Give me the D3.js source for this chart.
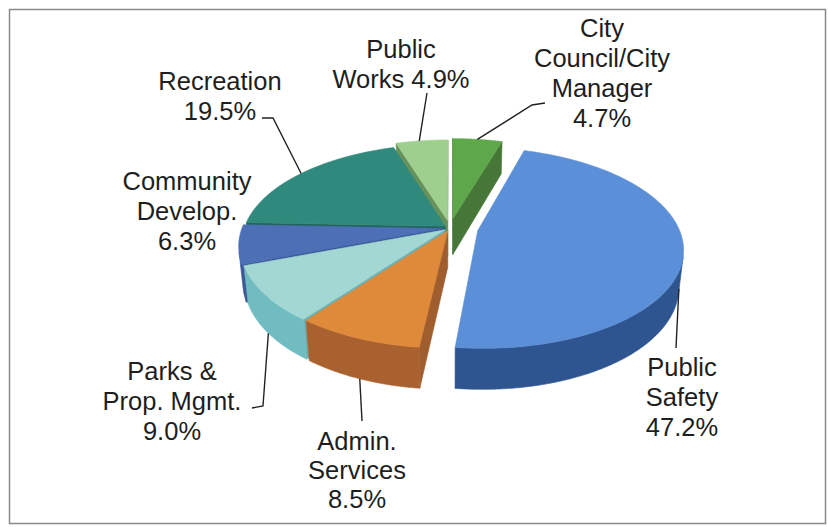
<!DOCTYPE html>
<html>
<head>
<meta charset="utf-8">
<script src="https://cdn.jsdelivr.net/npm/d3@7"></script>
<style>
  body { margin: 0; background: #fff; }
  text { font-family: "Liberation Sans", Arial, sans-serif; }
</style>
</head>
<body>
<svg width="828" height="527"></svg>
<script>
// ---- data ----
const categories = ['City Council/City Manager', 'Public Safety', 'Admin. Services',
  'Parks & Prop. Mgmt.', 'Community Develop.', 'Recreation', 'Public Works'];
const shares = [4.7, 47.2, 8.5, 9.0, 6.3, 19.5, 4.9];
const labelLines = [
  ['City', 'Council/City', 'Manager', '4.7%'],
  ['Public', 'Safety', '47.2%'],
  ['Admin.', 'Services', '8.5%'],
  ['Parks &', 'Prop. Mgmt.', '9.0%'],
  ['Community', 'Develop.', '6.3%'],
  ['Recreation', '19.5%'],
  ['Public', 'Works 4.9%']
];

// ---- styles ----
const topColors  = ['#5ea84b', '#5b8fd8', '#df8a3b', '#a2d7d3', '#4c6fb6', '#2f8a7d', '#9fcf8f'];
const sideColors = ['#4b7e3b', '#2f5590', '#a9622f', '#70bcc0', '#3a5597', '#236a5f', '#6e9a61'];
const explode    = [0.10, 0.14, 0.03, 0.03, 0.035, 0.03, 0.08];

// label layout: centre x, first baseline, line step; leader: fixed points then anchor on slice
const labelPos = [[602, 37, 30], [682, 376, 30], [357, 450, 29], [172, 380, 30],
                  [187, 190, 30], [220, 90, 30], [401, 58, 30]];
const leaderPts = [[[545, 103], [532, 105]], [[676, 348]], [[362, 421]],
                   [[252, 408], [263, 406]], null, [[262, 118], [273, 118]], [[427, 93]]];
const leaderAt = [[0.5, 'top'], [0.5, 'bottom'], [0.5, 'bottom'], [0.5, 'bottom'], null,
                  [0.5, 'top'], [0.45, 'top']];

const svg = d3.select('svg');
const width = +svg.attr('width');
const height = +svg.attr('height');

svg.append('rect')
  .attr('x', 9.5).attr('y', 9.5)
  .attr('width', width - 12).attr('height', height - 13)
  .attr('fill', '#fff').attr('stroke', '#8a8a8a').attr('stroke-width', 1.5);

// ---- 3D pie projection ----
const elev = 28.7 * Math.PI / 180;
const persp = 0.17;
const scale = 201;
const cx = 450, cy = 228;
const thick = 0.21;
const D = Math.cos(elev) / persp;
const f = scale * D;
const cam = { x: 0, y: D * Math.sin(elev), z: D * Math.cos(elev) };

const project = (X, Y, Z) => {
  const yc = Y * Math.cos(elev) - Z * Math.sin(elev);
  const dep = D - Y * Math.sin(elev) - Z * Math.cos(elev);
  return [cx + f * X / dep, cy - f * yc / dep];
};

const arcs = d3.pie().sort(null).value(d => d)(shares);
const slices = arcs.map((a, i) => {
  const mid = (a.startAngle + a.endAngle) / 2;
  return {
    i, a0: a.startAngle, a1: a.endAngle, mid,
    ox: explode[i] * Math.sin(mid),
    oz: -explode[i] * Math.cos(mid)
  };
});

const pt = (s, r, th, Y) => project(s.ox + r * Math.sin(th), Y, s.oz - r * Math.cos(th));
const line = d3.line().curve(d3.curveLinearClosed);
const facing = (px, pz, nx, nz) => nx * (cam.x - px) + nz * (cam.z - pz) > 0;

const g = svg.append('g');
const order = slices.slice().sort((a, b) => (-Math.cos(a.mid)) - (-Math.cos(b.mid)));

order.forEach(s => {
  const side = sideColors[s.i], top = topColors[s.i];
  const draw = (poly, col) => g.append('path')
    .attr('d', line(poly))
    .attr('fill', col).attr('stroke', col).attr('stroke-width', 0.6)
    .attr('stroke-linejoin', 'round');

  // cut faces
  [[s.a0, -1], [s.a1, 1]].forEach(([th, sg]) => {
    const nx = sg * Math.cos(th), nz = sg * Math.sin(th);
    if (facing(s.ox, s.oz, nx, nz)) {
      draw([pt(s, 0, th, 0), pt(s, 1, th, 0), pt(s, 1, th, -thick), pt(s, 0, th, -thick)],
        d3.color(side).darker(0.15));
    }
  });

  // outer wall, visible runs only
  const n = Math.max(2, Math.ceil((s.a1 - s.a0) / (Math.PI / 360)));
  const ths = d3.range(n + 1).map(j => s.a0 + (s.a1 - s.a0) * j / n);
  let run = [];
  const flush = () => {
    if (run.length > 1) {
      const poly = run.map(th => pt(s, 1, th, 0))
        .concat(run.slice().reverse().map(th => pt(s, 1, th, -thick)));
      draw(poly, side);
    }
    run = [];
  };
  ths.forEach(th => {
    const px = s.ox + Math.sin(th), pz = s.oz - Math.cos(th);
    if (facing(px, pz, Math.sin(th), -Math.cos(th))) run.push(th);
    else flush();
  });
  flush();

  // top face
  draw([pt(s, 0, 0, 0)].concat(ths.map(th => pt(s, 1, th, 0))), top);
});

// ---- labels & leaders ----
slices.forEach(s => {
  const i = s.i;
  if (leaderPts[i]) {
    const [fr, lvl] = leaderAt[i];
    const th = s.a0 + (s.a1 - s.a0) * fr;
    const end = pt(s, 1, th, lvl === 'top' ? 0 : -thick);
    svg.append('path')
      .attr('d', d3.line()(leaderPts[i].concat([end])))
      .attr('fill', 'none').attr('stroke', '#222').attr('stroke-width', 1.4);
  }
  const [lx, ly, step] = labelPos[i];
  const t = svg.append('text')
    .attr('text-anchor', 'middle')
    .attr('font-size', 25.5)
    .attr('fill', '#1e1e1e');
  labelLines[i].forEach((ln, j) => {
    t.append('tspan').attr('x', lx).attr('y', ly + j * step).text(ln);
  });
});
</script>
</body>
</html>
